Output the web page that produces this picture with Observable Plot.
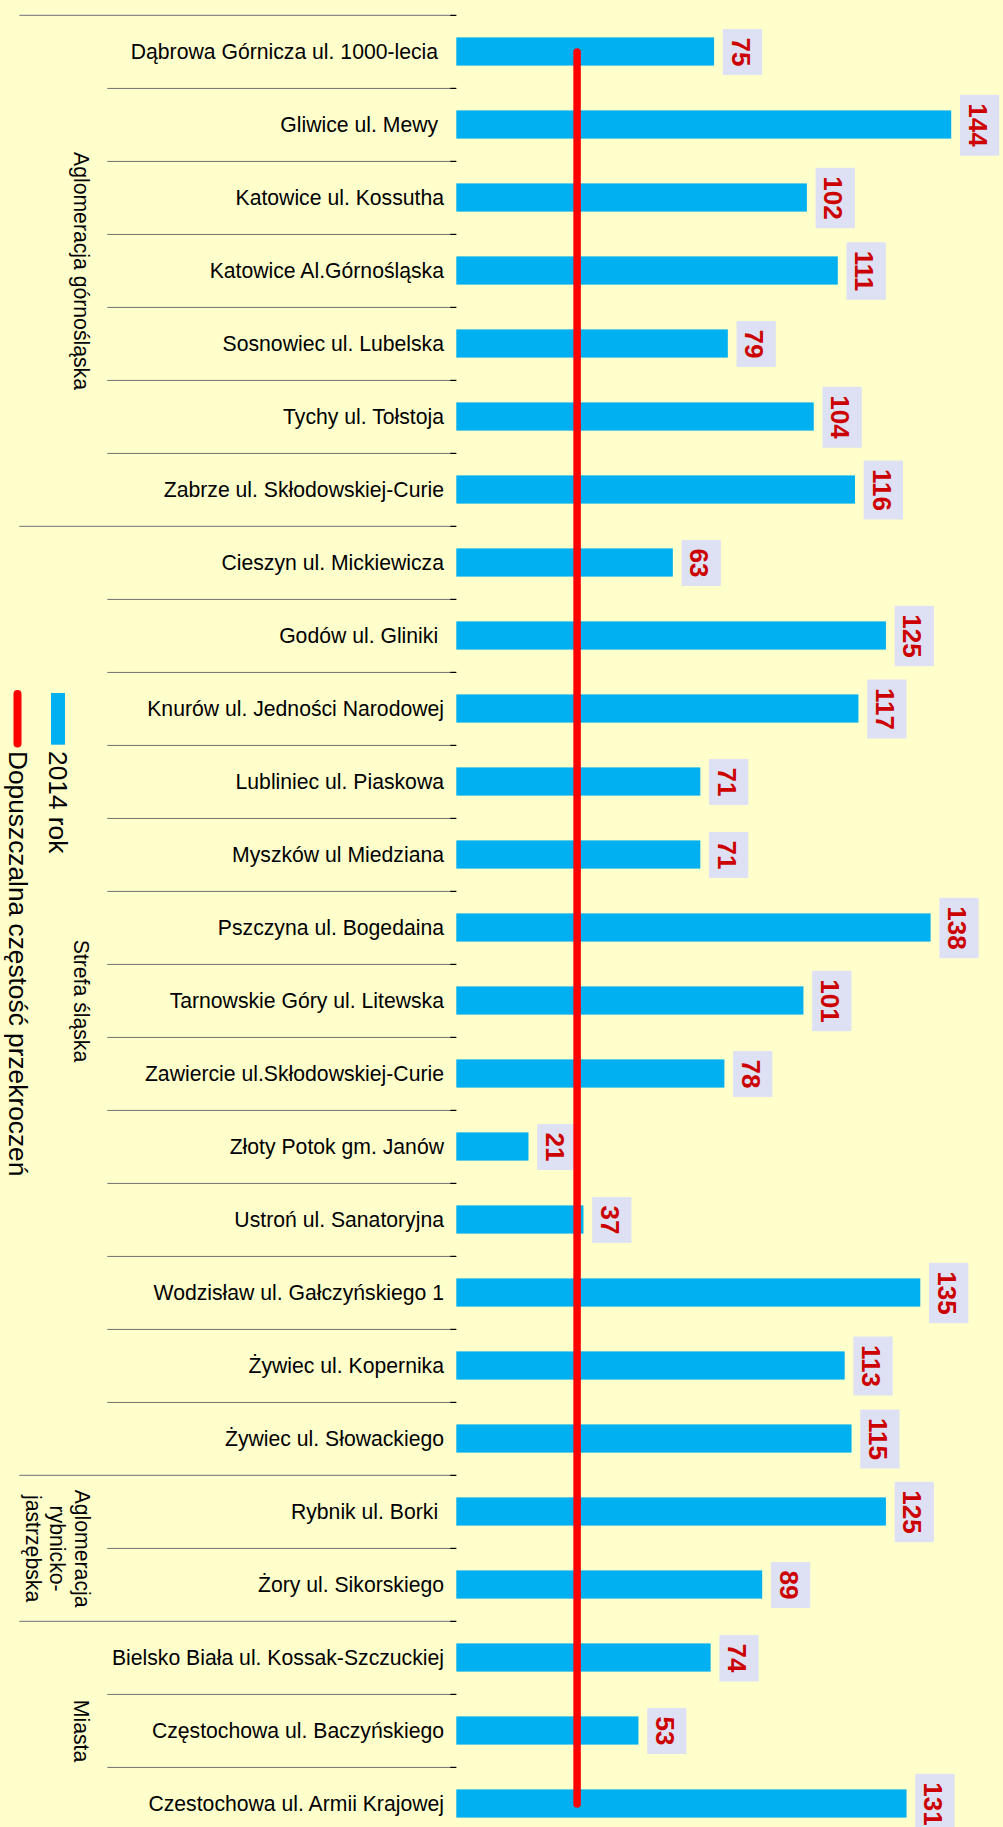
<!DOCTYPE html>
<html>
<head>
<meta charset="utf-8">
<script src="https://cdn.jsdelivr.net/npm/d3@7"></script>
<script src="https://cdn.jsdelivr.net/npm/@observablehq/plot@0.6"></script>
<style>
  html, body { margin: 0; padding: 0; background: #FFFFCC; }
  #chart { position: relative; width: 1003px; height: 1827px; overflow: hidden; }
  svg text { white-space: pre; }
</style>
</head>
<body>
<div id="chart"></div>
<script>
// ---- data ----
const stations = [
  "Dąbrowa Górnicza ul. 1000-lecia ",
  "Gliwice ul. Mewy ",
  "Katowice ul. Kossutha",
  "Katowice Al.Górnośląska",
  "Sosnowiec ul. Lubelska",
  "Tychy ul. Tołstoja",
  "Zabrze ul. Skłodowskiej-Curie",
  "Cieszyn ul. Mickiewicza",
  "Godów ul. Gliniki ",
  "Knurów ul. Jedności Narodowej",
  "Lubliniec ul. Piaskowa",
  "Myszków ul Miedziana",
  "Pszczyna ul. Bogedaina",
  "Tarnowskie Góry ul. Litewska",
  "Zawiercie ul.Skłodowskiej-Curie",
  "Złoty Potok gm. Janów",
  "Ustroń ul. Sanatoryjna",
  "Wodzisław ul. Gałczyńskiego 1",
  "Żywiec ul. Kopernika",
  "Żywiec ul. Słowackiego",
  "Rybnik ul. Borki ",
  "Żory ul. Sikorskiego",
  "Bielsko Biała ul. Kossak-Szczuckiej",
  "Częstochowa ul. Baczyńskiego",
  "Czestochowa ul. Armii Krajowej"
];
const days2014 = [75, 144, 102, 111, 79, 104, 116, 63, 125, 117, 71, 71, 138, 101, 78, 21, 37, 135, 113, 115, 125, 89, 74, 53, 131];
const groupLabels = ["Aglomeracja górnośląska", "Strefa śląska", "Aglomeracja\nrybnicko-\njastrzębska", "Miasta"];
const groupSizes = [7, 13, 2, 3];
const allowedDays = 35;
const legendLabels = ["2014 rok", "Dopuszczalna częstość przekroczeń"];

// ---- layout / style ----
const FONT = '"Liberation Sans", Arial, Helvetica, sans-serif';
const x0 = 456.3, pxPerDay = 3.437, topY = 12.7, rowH = 73.16;
const BAR = "#00B0F0", RED = "#FF0000", LABEL_RED = "#CC0000", BOX = "#DDE1F3";

// ---- build tables ----
const rows = [];
let idx = 0;
const groups = groupLabels.map((label, g) => {
  const start = idx;
  for (let k = 0; k < groupSizes[g]; k++, idx++) {
    rows.push({name: stations[idx], value: days2014[idx], limit: allowedDays, group: g, first: k === 0});
  }
  const size = groupSizes[g];
  return {label, mid: stations[start + Math.floor((size - 1) / 2)], even: size % 2 === 0, multi: label.includes("\n")};
});

const groupMarks = groups.map(g => Plot.text([g], {
  x: () => 0, y: "mid", text: "label",
  rotate: 90, fontSize: 21.2, fill: "#000", lineHeight: 1.17,
  dx: (g.multi ? 57.8 : 81.3) - x0,
  dy: g.even ? rowH / 2 : 0
}));

const chart = Plot.plot({
  width: 1003,
  height: 1827,
  margin: 0,
  style: {background: "#FFFFCC", fontFamily: FONT, overflow: "hidden"},
  x: {domain: [0, 160], range: [x0, x0 + 160 * pxPerDay], axis: null},
  y: {type: "band", domain: stations, range: [topY, topY + stations.length * rowH], padding: 0, axis: null},
  marks: [
    // row separators
    Plot.ruleY(rows.filter(d => d.first), {y: "name", x1: 0, x2: 0, insetLeft: -(x0 - 19.3), dy: -rowH / 2, stroke: "#8a8a8a", strokeWidth: 1.2}),
    Plot.ruleY(rows.filter(d => !d.first), {y: "name", x1: 0, x2: 0, insetLeft: -(x0 - 107.3), dy: -rowH / 2, stroke: "#6e6e6e", strokeWidth: 1}),
    Plot.ruleY(rows, {y: "name", x1: 0, x2: 0, insetLeft: -6, dy: -rowH / 2, stroke: "#000", strokeWidth: 1.2}),
    // vertical axis line
    Plot.ruleX(rows, {x: 0, y: "name", stroke: "#000", strokeWidth: 1.6}),
    // category labels
    Plot.text(rows, {x: 0, y: "name", text: "name", textAnchor: "end", dx: -12.8, fontSize: 21.2, fill: "#000"}),
    // bars
    Plot.barX(rows, {x: "value", y: "name", fill: BAR, insetTop: 22.4, insetBottom: 22.4}),
    // value labels
    Plot.text(rows, {x: "value", y: "name", text: d => String(d.value), rotate: 90, dx: 25.4,
      fontSize: 26, fontWeight: "bold", fill: LABEL_RED, ariaDescription: "values"}),
    // allowed number of exceedances
    Plot.lineX(rows, {x: "limit", y: "name", stroke: RED, strokeWidth: 7.5, strokeLinecap: "round"}),
    ...groupMarks
  ]
});

document.getElementById("chart").append(chart);

// label boxes behind value labels
const svg = d3.select(chart);
let valueTexts = svg.selectAll('g[aria-description="values"] text');
if (valueTexts.empty()) valueTexts = svg.selectAll('g[font-weight="bold"] text');
valueTexts.each(function() {
  const bb = this.getBBox();
  const fs = 26;
  const capC = bb.y + 0.547 * fs;
  const r = document.createElementNS("http://www.w3.org/2000/svg", "rect");
  const tr = this.getAttribute("transform");
  if (tr) r.setAttribute("transform", tr);
  r.setAttribute("x", bb.x - 8.5);
  r.setAttribute("width", bb.width + 17);
  r.setAttribute("y", capC - 1 - 19.65);
  r.setAttribute("height", 39.3);
  r.setAttribute("fill", BOX);
  this.parentNode.insertBefore(r, this);
});

// legend (rotated, on the left)
const lg = svg.append("g").attr("font-family", FONT).attr("font-size", 26.3)
  .attr("fill", "#000").attr("text-anchor", "start");
lg.append("rect").attr("x", 51).attr("y", 693).attr("width", 14).attr("height", 51.7).attr("fill", BAR);
lg.append("line").attr("x1", 17.5).attr("x2", 17.5).attr("y1", 694).attr("y2", 743.5)
  .attr("stroke", RED).attr("stroke-width", 8).attr("stroke-linecap", "round");
lg.append("text").attr("transform", "translate(58,751) rotate(90)").attr("dy", "0.35em").text(legendLabels[0]);
lg.append("text").attr("transform", "translate(17.8,751) rotate(90)").attr("dy", "0.35em").text(legendLabels[1]);
</script>
</body>
</html>
